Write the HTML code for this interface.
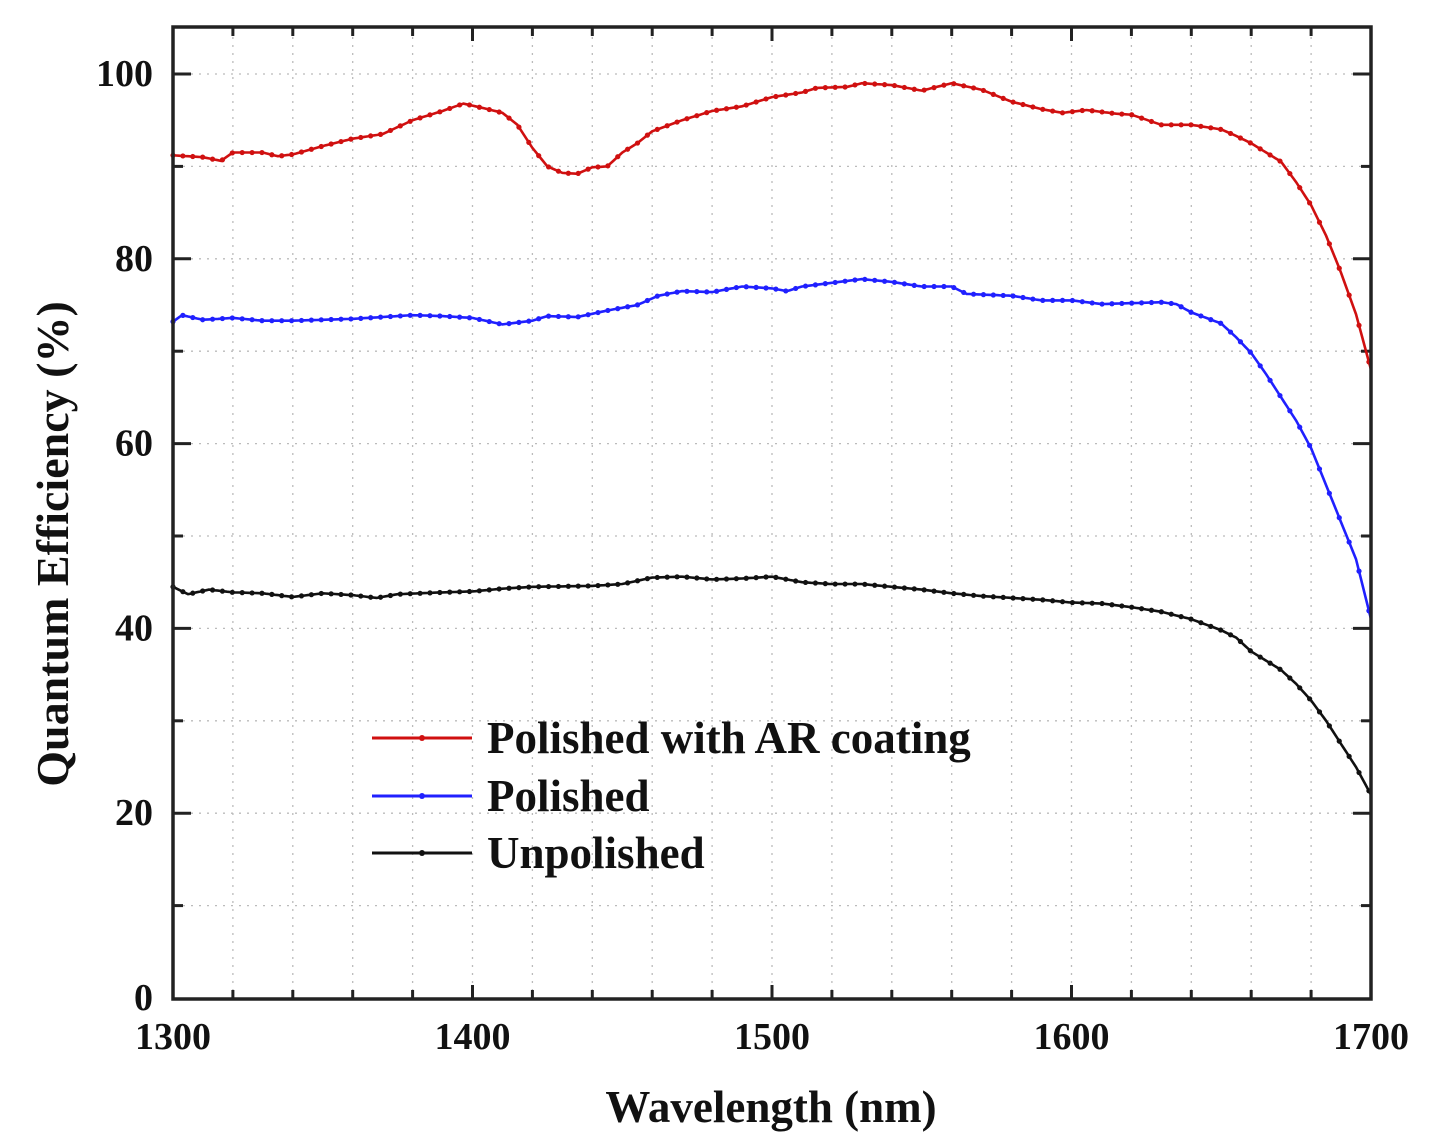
<!DOCTYPE html>
<html><head><meta charset="utf-8"><style>
html,body{margin:0;padding:0;background:#fff;}
svg{display:block;font-family:"Liberation Serif",serif;font-weight:bold;}
</style></head><body>
<svg id="s" width="1435" height="1138" viewBox="0 0 1435 1138" xmlns="http://www.w3.org/2000/svg">
<g id="grid" stroke="#bbb" stroke-width="1.3" stroke-dasharray="2,6"></g>
<g id="ticks" stroke="#222" stroke-width="3"></g>
<g id="data"></g>
<rect x="173" y="27" width="1198" height="972" fill="none" stroke="#222" stroke-width="3.5"/>
<g font-size="38" fill="#111" text-anchor="end" id="ylab"></g>
<g font-size="38" fill="#111" text-anchor="middle" id="xlab"></g>
<text x="771" y="1122" font-size="45" text-anchor="middle" fill="#111">Wavelength (nm)</text>
<text transform="translate(68,544) rotate(-90)" font-size="46" text-anchor="middle" fill="#111">Quantum Efficiency (%)</text>
<g font-size="45" fill="#111">
<line x1="372" y1="738" x2="472" y2="738" stroke="#d01010" stroke-width="3"/><circle cx="422" cy="738" r="3" fill="#d01010"/>
<text x="487" y="753">Polished with AR coating</text>
<line x1="372" y1="796" x2="472" y2="796" stroke="#2020ff" stroke-width="3"/><circle cx="422" cy="796" r="3" fill="#2020ff"/>
<text x="487" y="811">Polished</text>
<line x1="372" y1="853" x2="472" y2="853" stroke="#111" stroke-width="3"/><circle cx="422" cy="853" r="3" fill="#111"/>
<text x="487" y="868">Unpolished</text>
</g>
</svg>
<script>
const NS="http://www.w3.org/2000/svg";
const X=v=>173+(v-1300)*1198/400, Y=v=>998-v*9.24;
function el(p,t,a,txt){const e=document.createElementNS(NS,t);for(const k in a)e.setAttribute(k,a[k]);if(txt!=null)e.textContent=txt;p.appendChild(e);return e;}
const g=document.getElementById('grid'),tk=document.getElementById('ticks');
for(let w=1320;w<1700;w+=20){el(g,'line',{x1:X(w),x2:X(w),y1:29,y2:997});const L=w%100==0?14:9;
el(tk,'line',{x1:X(w),x2:X(w),y1:999,y2:999-L});el(tk,'line',{x1:X(w),x2:X(w),y1:27,y2:27+L});}
for(let v=10;v<=100;v+=10){el(g,'line',{x1:175,x2:1369,y1:Y(v),y2:Y(v)});}
for(let v=10;v<=100;v+=10){const L=v%20==0?18:10;el(tk,'line',{x1:173,x2:173+L,y1:Y(v),y2:Y(v)});el(tk,'line',{x1:1371,x2:1371-L,y1:Y(v),y2:Y(v)});}
const yl=document.getElementById('ylab');for(let v=0;v<=100;v+=20)el(yl,'text',{x:153,y:Y(v)+12},v);
const xl=document.getElementById('xlab');for(let w=1300;w<=1700;w+=100)el(xl,'text',{x:X(w),y:1049},w);
const S=[["#d01010",[1300,91.2,1310,91.0,1316,90.6,1320,91.5,1330,91.5,1335,91.1,1340,91.3,1350,92.2,1360,93.0,1370,93.5,1380,95.0,1390,96.0,1397,96.8,1405,96.2,1410,95.8,1415,94.5,1420,92.0,1425,90.0,1430,89.3,1435,89.2,1440,89.9,1445,90.0,1450,91.5,1455,92.5,1460,93.8,1470,95.0,1480,96.0,1490,96.5,1500,97.5,1510,98.0,1515,98.5,1525,98.6,1530,99.0,1540,98.8,1550,98.2,1560,99.0,1570,98.3,1580,97.0,1590,96.2,1597,95.8,1605,96.1,1615,95.7,1620,95.6,1630,94.5,1640,94.5,1650,94.0,1655,93.3,1660,92.5,1665,91.5,1670,90.5,1675,88.3,1680,85.8,1685,82.5,1690,78.5,1695,74.0,1700,68.0]],
["#2020ff",[1300,73.2,1303,73.9,1310,73.4,1320,73.6,1330,73.3,1340,73.3,1350,73.4,1360,73.5,1370,73.7,1380,73.9,1390,73.8,1400,73.6,1410,72.9,1420,73.3,1425,73.8,1435,73.7,1445,74.4,1455,75.0,1462,76.0,1470,76.5,1480,76.4,1490,77.0,1500,76.8,1505,76.5,1510,77.0,1520,77.4,1530,77.8,1540,77.5,1550,77.0,1560,77.0,1565,76.2,1580,76.0,1590,75.5,1600,75.5,1610,75.1,1620,75.2,1630,75.3,1635,75.1,1640,74.2,1650,73.0,1655,71.5,1660,69.8,1665,67.5,1670,65.0,1675,62.5,1680,59.5,1685,55.5,1690,51.5,1695,47.5,1700,41.0]],
["#111",[1300,44.5,1305,43.7,1312,44.2,1320,43.9,1330,43.8,1340,43.4,1350,43.8,1360,43.6,1368,43.3,1375,43.7,1390,43.9,1400,44.0,1410,44.3,1420,44.5,1440,44.6,1450,44.8,1460,45.5,1470,45.6,1480,45.3,1490,45.4,1500,45.6,1510,45.0,1520,44.8,1530,44.8,1540,44.5,1550,44.2,1560,43.8,1570,43.5,1580,43.3,1590,43.1,1600,42.8,1610,42.7,1620,42.3,1630,41.8,1640,41.0,1650,39.8,1655,39.0,1660,37.5,1665,36.5,1670,35.5,1675,34.0,1680,32.2,1685,30.0,1690,27.5,1695,25.0,1700,22.0]]];
const d=document.getElementById('data');
for(const [c,a] of S){const xs=[],ys=[];for(let i=0;i<a.length;i+=2){xs.push(a[i]);ys.push(a[i+1]);}
const f=w=>{for(let i=1;i<xs.length;i++)if(w<=xs[i]){const t=(w-xs[i-1])/(xs[i]-xs[i-1]);return ys[i-1]+t*(ys[i]-ys[i-1]);}return ys[ys.length-1];};
let p="";for(let w=1300;w<=1700;w+=1)p+=(w==1300?"M":"L")+X(w).toFixed(1)+","+Y(f(w)).toFixed(1);
el(d,'path',{d:p,fill:"none",stroke:c,"stroke-width":2.6});
for(let w=1300;w<=1700;w+=3.3)el(d,'circle',{cx:X(w),cy:Y(f(w)),r:2.6,fill:c});}
</script>
</body></html>
